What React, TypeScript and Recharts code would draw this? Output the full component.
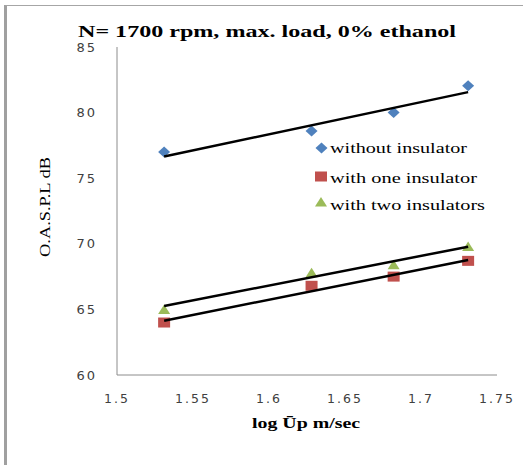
import React from "react";
import { ScatterChart, Scatter, XAxis, YAxis, Legend, Label } from "recharts";

// log of mean piston speed (x) and O.A.S.P.L in dB (y)
const logUp = [1.531, 1.628, 1.682, 1.731];
const withoutInsulator = [77.0, 78.6, 80.0, 82.05];
const oneInsulator = [64.0, 66.8, 67.5, 68.7];
const twoInsulators = [65.0, 67.8, 68.4, 69.8];

// linear trend lines, end points
const trendX = [1.531, 1.731];
const trendWithout = [76.66, 81.56];
const trendOne = [64.14, 68.77];
const trendTwo = [65.26, 69.78];

const xTicks = [1.5, 1.55, 1.6, 1.65, 1.7, 1.75];
const yTicks = [60, 65, 70, 75, 80, 85];
const seriesNames = ["without insulator", "with one insulator", "with two insulators"];
const colors = ["#4F81BD", "#C0504D", "#9BBB59"];

const toPoints = (xs: number[], ys: number[]) => xs.map((x, i) => ({ x, y: ys[i] }));

const Diamond = ({ cx, cy, fill }: any) => (
  <path d={`M${cx},${cy - 5.5} L${cx + 6},${cy} L${cx},${cy + 5.5} L${cx - 6},${cy} Z`} fill={fill} />
);
const Square = ({ cx, cy, fill }: any) => (
  <rect x={cx - 6} y={cy - 5} width={12} height={10} fill={fill} />
);
const Triangle = ({ cx, cy, fill }: any) => (
  <path d={`M${cx},${cy - 5} L${cx + 6},${cy + 4.5} L${cx - 6},${cy + 4.5} Z`} fill={fill} />
);
const NoDot = () => <g />;

const serif = "Liberation Serif";
const sans = "DejaVu Sans";

const renderLegend = () => (
  <svg width={200} height={85} style={{ display: "block" }}>
    <Diamond cx={16.5} cy={13} fill={colors[0]} />
    <Square cx={16} cy={41.5} fill={colors[1]} />
    <Triangle cx={16} cy={67} fill={colors[2]} />
    {seriesNames.map((name, i) => (
      <text
        key={name}
        x={25}
        y={[17.5, 48, 75][i]}
        fontFamily={serif}
        fontSize={14}
        fill="#000"
        textLength={[137, 147, 155][i]}
        lengthAdjust="spacingAndGlyphs"
      >
        {name}
      </text>
    ))}
  </svg>
);

export default function App() {
  return (
    <div style={{ position: "absolute", left: 0, top: 0, width: 523, height: 465, background: "#fff" }}>
      <div
        style={{
          position: "absolute",
          left: 4,
          top: 5,
          width: 519,
          height: 460,
          borderTop: "1.5px solid #a6a6a6",
          borderLeft: "3px solid #a0a0a0",
          boxSizing: "border-box",
        }}
      />
      <div style={{ position: "absolute", left: 0, top: 0 }}>
        <ScatterChart width={523} height={465} margin={{ top: 47, right: 26, left: 0, bottom: 30 }}>
          <XAxis
            type="number"
            dataKey="x"
            domain={[1.5, 1.75]}
            ticks={xTicks}
            height={60}
            stroke="#8c8c8c"
            tickLine={false}
            tickSize={6}
            tickMargin={13}
            tick={{ fontFamily: sans, fontSize: 12.5, fill: "#404040", letterSpacing: 2 }}
            label={
              <Label
                content={() => (
                  <text
                    x={306}
                    y={428}
                    textAnchor="middle"
                    fontFamily={serif}
                    fontWeight="bold"
                    fontSize={14}
                    fill="#000"
                    textLength={108}
                    lengthAdjust="spacingAndGlyphs"
                  >
                    log Ūp m/sec
                  </text>
                )}
              />
            }
          />
          <YAxis
            type="number"
            dataKey="y"
            domain={[60, 85]}
            ticks={yTicks}
            width={117}
            stroke="#8c8c8c"
            tickLine={false}
            tickSize={6}
            tickMargin={14}
            tick={{ fontFamily: sans, fontSize: 13, fill: "#404040", letterSpacing: 2 }}
            label={
              <Label
                content={() => (
                  <text
                    x={45}
                    y={207}
                    transform="rotate(-90, 45, 207)"
                    textAnchor="middle"
                    dominantBaseline="central"
                    fontFamily={serif}
                    fontSize={14}
                    fill="#000"
                    textLength={100}
                    lengthAdjust="spacingAndGlyphs"
                  >
                    O.A.S.P.L  dB
                  </text>
                )}
              />
            }
          />
          <Scatter data={toPoints(logUp, withoutInsulator)} fill={colors[0]} shape={Diamond} isAnimationActive={false} />
          <Scatter data={toPoints(logUp, oneInsulator)} fill={colors[1]} shape={Square} isAnimationActive={false} />
          <Scatter data={toPoints(logUp, twoInsulators)} fill={colors[2]} shape={Triangle} isAnimationActive={false} />
          {[trendWithout, trendOne, trendTwo].map((t, i) => (
            <Scatter
              key={i}
              data={toPoints(trendX, t)}
              line={{ stroke: "#000", strokeWidth: 2.5 }}
              shape={NoDot}
              legendType="none"
              isAnimationActive={false}
            />
          ))}
          <Legend
            layout="vertical"
            align="center"
            verticalAlign="middle"
            wrapperStyle={{ left: 305, top: 135, width: 200, height: 85 }}
            content={renderLegend}
          />
          <text
            x={267}
            y={37}
            textAnchor="middle"
            fontFamily={serif}
            fontWeight="bold"
            fontSize={16}
            fill="#000"
            textLength={378}
            lengthAdjust="spacingAndGlyphs"
          >
            N= 1700 rpm, max. load, 0%  ethanol
          </text>
        </ScatterChart>
      </div>
    </div>
  );
}
